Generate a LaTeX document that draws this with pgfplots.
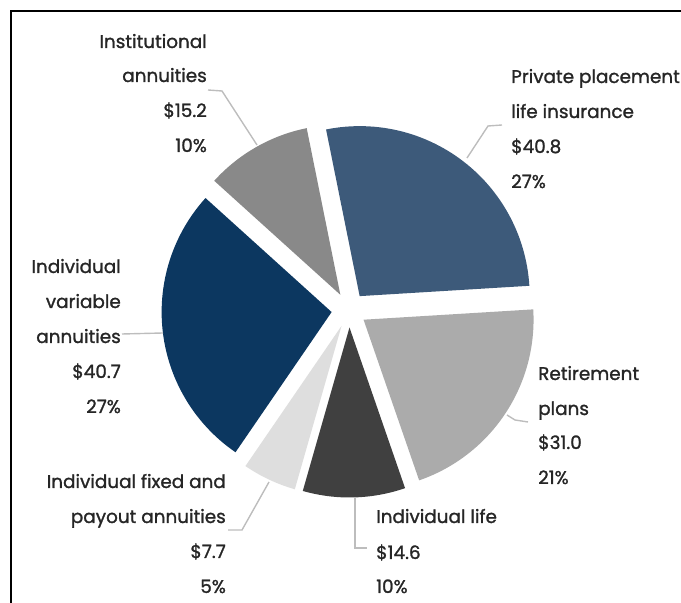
\documentclass[border=0pt]{standalone}
\usepackage{pgfplots}
\pgfplotsset{compat=1.18}
\usepackage{fontspec}
\setmainfont{Poppins}
\newfontfamily\lblfont{Poppins}[FakeBold=1.3]
\definecolor{cPriv}{HTML}{3D5A7A}
\definecolor{cRet}{HTML}{ABABAB}
\definecolor{cLife}{HTML}{404040}
\definecolor{cFix}{HTML}{DEDEDE}
\definecolor{cVar}{HTML}{0C3760}
\definecolor{cInst}{HTML}{898989}
\definecolor{txt}{HTML}{262626}
\definecolor{lead}{HTML}{BDBDBD}
\def\cx{349}\def\cy{293}\def\R{170}\def\ex{17.5}\def\tot{150.0}
\def\curang{101.4}
\newcommand{\pieslice}[2]{%
  \pgfmathsetmacro\sa{\curang}%
  \pgfmathsetmacro\ea{\curang-#1/\tot*360}%
  \pgfmathsetmacro\ma{(\sa+\ea)/2}%
  \pgfmathsetmacro\tx{\cx+\ex*cos(\ma)}%
  \pgfmathsetmacro\ty{\cy+\ex*sin(\ma)}%
  \edef\doplot{\noexpand\addplot[fill=#2, draw=none, domain=0:62, samples=63, variable=\noexpand\t] ({\tx+(((\noexpand\t<0.5)||(\noexpand\t>61.5))?0:\R)*cos(\sa+(\noexpand\t-1)*(\ea-\sa)/60)}, {\ty+(((\noexpand\t<0.5)||(\noexpand\t>61.5))?0:\R)*sin(\sa+(\noexpand\t-1)*(\ea-\sa)/60)});}%
  \doplot
  \xdef\curang{\ea}%
}
\tikzset{lb/.style={inner sep=0pt, text=txt, font=\lblfont\fontsize{18.4bp}{22bp}\selectfont}}
\begin{document}
\begin{tikzpicture}
\begin{axis}[name=ax, x=1bp, y=1bp, xmin=0, xmax=681, ymin=0, ymax=603,
  hide axis, clip=false, scale only axis]
% slices (values in $bn), clockwise from 101.4 deg
\pieslice{40.8}{cPriv}
\pieslice{31.0}{cRet}
\pieslice{14.6}{cLife}
\pieslice{7.7}{cFix}
\pieslice{40.7}{cVar}
\pieslice{15.2}{cInst}
% leader lines
\addplot[lead, line width=1.4bp] coordinates {(208,513) (222,512) (257,458)};
\addplot[lead, line width=1.4bp] coordinates {(502,478) (488,477) (467,445)};
\addplot[lead, line width=1.4bp] coordinates {(122,269) (163,270)};
\addplot[lead, line width=1.4bp] coordinates {(528,181) (515,183) (507,188)};
\addplot[lead, line width=1.4bp] coordinates {(228,73) (242,73) (269,121)};
\addplot[lead, line width=1.4bp] coordinates {(355,106) (355,55) (367,55)};
% frame
\addplot[black, line width=2.5bp, line join=miter] coordinates {(11,0) (11,592) (681,592)};
% labels
\node[lb, anchor=base east] at (axis cs:207,555) {Institutional};
\node[lb, anchor=base east] at (axis cs:207,521) {annuities};
\node[lb, anchor=base east] at (axis cs:207,486) {\$15.2};
\node[lb, anchor=base east] at (axis cs:207,451) {10\%};
\node[lb, anchor=base west] at (axis cs:511,520) {Private placement};
\node[lb, anchor=base west] at (axis cs:511,485) {life insurance};
\node[lb, anchor=base west] at (axis cs:511,450) {\$40.8};
\node[lb, anchor=base west] at (axis cs:511,415) {27\%};
\node[lb, anchor=base east] at (axis cs:121,330) {Individual};
\node[lb, anchor=base east] at (axis cs:121,295) {variable};
\node[lb, anchor=base east] at (axis cs:121,260) {annuities};
\node[lb, anchor=base east] at (axis cs:121,225) {\$40.7};
\node[lb, anchor=base east] at (axis cs:121,190) {27\%};
\node[lb, anchor=base west] at (axis cs:538,223) {Retirement};
\node[lb, anchor=base west] at (axis cs:538,188) {plans};
\node[lb, anchor=base west] at (axis cs:538,154) {\$31.0};
\node[lb, anchor=base west] at (axis cs:538,119) {21\%};
\node[lb, anchor=base east] at (axis cs:226,115) {Individual fixed and};
\node[lb, anchor=base east] at (axis cs:226,80) {payout annuities};
\node[lb, anchor=base east] at (axis cs:226,45) {\$7.7};
\node[lb, anchor=base east] at (axis cs:226,10) {5\%};
\node[lb, anchor=base west] at (axis cs:376,80) {Individual life};
\node[lb, anchor=base west] at (axis cs:376,44) {\$14.6};
\node[lb, anchor=base west] at (axis cs:376,10) {10\%};
\end{axis}
\pgfresetboundingbox
\path[use as bounding box] (ax.south west) rectangle (ax.north east);
\end{tikzpicture}
\end{document}
